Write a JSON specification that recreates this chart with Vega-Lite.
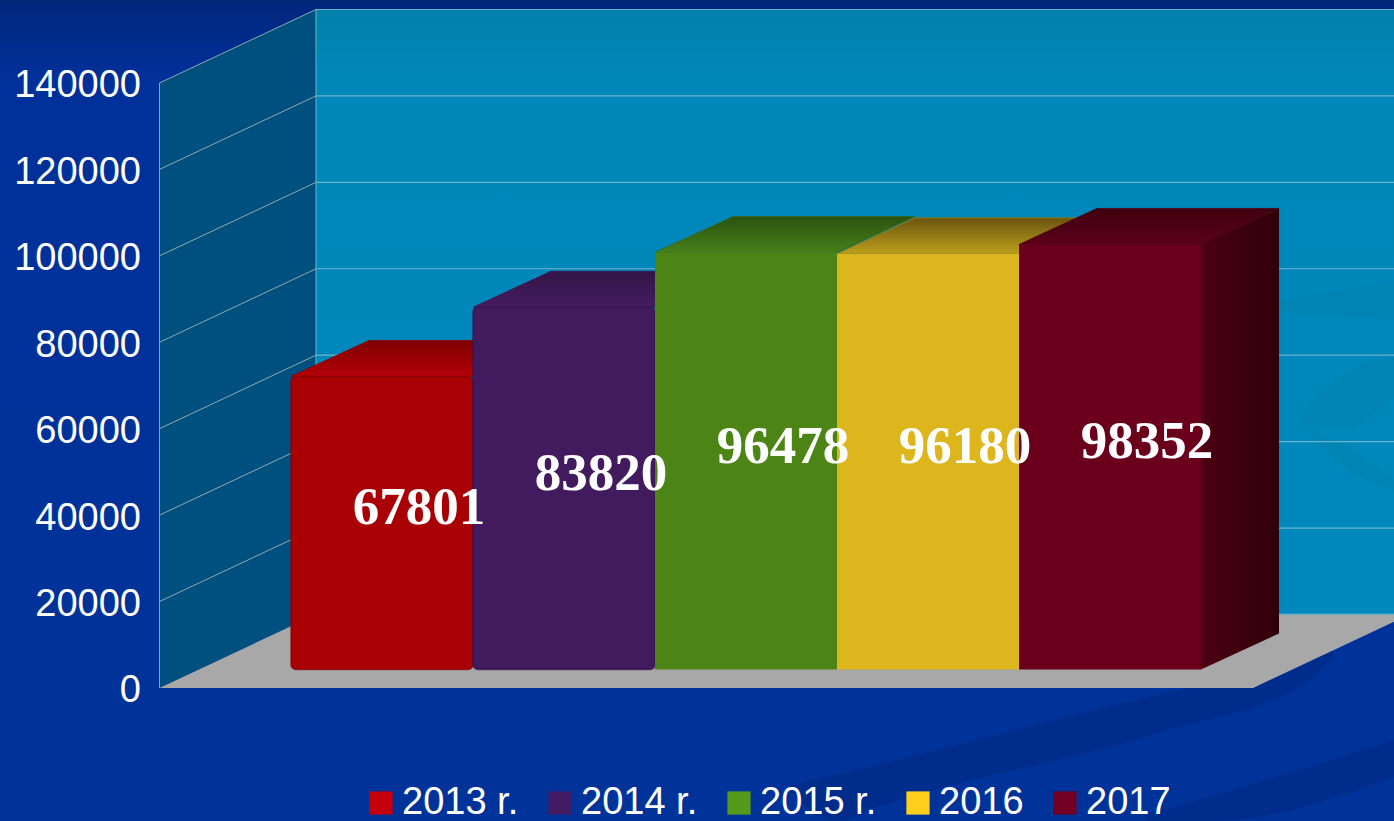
{
"$schema":"https://vega.github.io/schema/vega-lite/v6.json",
"width":1394,"height":821,"padding":0,"autosize":{"type":"none"},
"background":"#003399",
"view":{"stroke":null,"fill":{"gradient":"linear","x1":0,"y1":0,"x2":0,"y2":1,"stops":[{"offset":0,"color":"#01277c"},{"offset":0.1,"color":"#00309a"},{"offset":1,"color":"#003399"}]}},
"datasets":{
"bars":[
{"year":"2013 r.","value":67801,"order":0},
{"year":"2014 r.","value":83820,"order":1},
{"year":"2015 r.","value":96478,"order":2},
{"year":"2016","value":96180,"order":3},
{"year":"2017","value":98352,"order":4}],
"ticks":[{"tick":0},{"tick":20000},{"tick":40000},{"tick":60000},{"tick":80000},{"tick":100000},{"tick":120000},{"tick":140000}],
"floor":[{"depth":0},{"depth":1}],
"swirls":[
{"s":"a","u":2.742,"hi":-22685,"lo":-24074},{"s":"a","u":2.995,"hi":-20139,"lo":-30787},{"s":"a","u":3.22,"hi":-17824,"lo":-27546},{"s":"a","u":4.692,"hi":-2315,"lo":-11343},{"s":"a","u":4.879,"hi":-463,"lo":-9028},{"s":"a","u":5.434,"hi":5324,"lo":-2083},{"s":"a","u":5.577,"hi":6481,"lo":1157},{"s":"a","u":5.725,"hi":8796,"lo":7176},
{"s":"b","u":4.692,"hi":-29398,"lo":-30787},{"s":"b","u":5.06,"hi":-25000,"lo":-30787},{"s":"b","u":6.06,"hi":-12037,"lo":-20602}],
"wallSwirls":[
{"s":"c","u":5.555,"hi":63889,"lo":60880},{"s":"c","u":5.791,"hi":72917,"lo":60185},{"s":"c","u":6.06,"hi":76389,"lo":67824},
{"s":"d","u":5.599,"hi":59722,"lo":58333},{"s":"d","u":5.791,"hi":56250,"lo":50926},{"s":"d","u":6.06,"hi":48148,"lo":45833},
{"s":"e","u":5.434,"hi":89815,"lo":87037},{"s":"e","u":6.06,"hi":94444,"lo":85185}]
},
"data":{"name":"bars"},
"transform":[
{"calculate":"datum.order","as":"xl"},
{"calculate":"datum.order+1","as":"xr"},
{"calculate":"datum.value+4282","as":"ytop"},
{"calculate":"datum.order+0.703","as":"xlabel"},
{"calculate":"datum.value/2+7632","as":"ylabel"}
],
"resolve":{"scale":{"color":"independent","stroke":"independent"}},
"layer":[
{"mark":{"type":"rect","opacity":0},
 "encoding":{
  "x":{"datum":0,"type":"quantitative","axis":null,"scale":{"domain":[-1.5989,6.0604],"nice":false,"zero":false},"title":null},
  "y":{"field":"value","type":"quantitative","title":null,"axis":null,"scale":{"domain":[-30787,159207],"nice":false,"zero":false}},
  "y2":{"datum":0},
  "color":{"field":"year","type":"nominal","title":null,
   "scale":{"domain":["2013 r.","2014 r.","2015 r.","2016","2017"],"range":["#c4000c","#431b63","#559a1a","#ffcf1c","#720022"]},
   "legend":{"disable":false,"orient":"none","legendX":362,"legendY":784,"direction":"horizontal","columns":5,"padding":0,"symbolType":"square","symbolSize":540,"symbolStrokeWidth":0,"symbolOpacity":1,"labelFont":"Liberation Sans","labelFontSize":38,"labelColor":"#ffffff","labelOffset":2,"columnPadding":22,"labelLimit":300}}
 }},
{"data":{"name":"swirls"},"mark":{"type":"area","color":"#002d8c","interpolate":"monotone"},
 "encoding":{"x":{"field":"u","type":"quantitative","title":null,"axis":null},"y":{"field":"hi","type":"quantitative","stack":null,"title":null,"axis":null},"y2":{"field":"lo"},"detail":{"field":"s"}}},
{"mark":{"type":"rect","color":{"gradient":"linear","x1":0,"y1":0,"x2":0,"y2":1,"stops":[{"offset":0,"color":"#0081aa"},{"offset":0.12,"color":"#0087ba"},{"offset":1,"color":"#0088bc"}]}},
 "data":{"values":[{}]},
 "encoding":{"x":{"datum":0.1374,"axis":null},"x2":{"datum":6.0604},"y":{"datum":17012,"axis":null},"y2":{"datum":157012}}},
{"data":{"name":"wallSwirls"},"mark":{"type":"area","color":"#0084b4","interpolate":"monotone"},
 "encoding":{"x":{"field":"u","type":"quantitative","title":null,"axis":null},"y":{"field":"hi","type":"quantitative","stack":null,"title":null,"axis":null},"y2":{"field":"lo"},"detail":{"field":"s"}}},
{"data":{"name":"floor"},
 "transform":[{"calculate":"-0.7225+datum.depth*0.86","as":"u"},{"calculate":"datum.depth*17012","as":"lo"},{"calculate":"datum.lo+140000","as":"hi"}],
 "mark":{"type":"area","color":"#00507f"},
 "encoding":{"x":{"field":"u","type":"quantitative","title":null,"axis":null},"y":{"field":"hi","type":"quantitative","stack":null,"title":null,"axis":null},"y2":{"field":"lo"}}},
{"data":{"name":"floor"},
 "transform":[{"calculate":"datum.depth*17012","as":"v"},{"calculate":"-0.7225+datum.depth*0.86","as":"a"},{"calculate":"5.286+datum.depth*0.86","as":"b"}],
 "mark":{"type":"area","orient":"horizontal","color":"#a8a8a8","clip":true},
 "encoding":{"y":{"field":"v","type":"quantitative","title":null,"axis":null},"x":{"field":"a","type":"quantitative","stack":null,"title":null,"axis":null},"x2":{"field":"b"}}},
{"data":{"name":"ticks"},
 "transform":[{"filter":"datum.tick>0"},{"calculate":"datum.tick+17012","as":"back"}],
 "mark":{"type":"rule","color":"#8faab0","strokeWidth":1},
 "encoding":{"x":{"datum":-0.7225,"axis":null},"x2":{"datum":0.1374},"y":{"field":"tick","type":"quantitative","title":null,"axis":null},"y2":{"field":"back"}}},
{"data":{"name":"ticks"},
 "transform":[{"calculate":"datum.tick+17012","as":"back"}],
 "mark":{"type":"rule","color":"#6fb3cb","strokeWidth":1.2},
 "encoding":{"x":{"datum":0.1374,"axis":null},"x2":{"datum":6.0604},"y":{"field":"back","type":"quantitative","title":null,"axis":null}}},
{"data":{"values":[{}]},"mark":{"type":"rule","color":"#7fa6b2","strokeWidth":1},
 "encoding":{"x":{"datum":-0.7225,"axis":null},"y":{"datum":0,"axis":null},"y2":{"datum":140000}}},
{"data":{"values":[{}]},"mark":{"type":"rule","color":"#6fb3cb","strokeWidth":1},
 "encoding":{"x":{"datum":0.1374,"axis":null},"y":{"datum":17012,"axis":null},"y2":{"datum":157012}}},
{"data":{"name":"ticks"},
 "transform":[{"calculate":"datum.tick-800","as":"ty"}],
 "mark":{"type":"text","font":"Liberation Sans","fontSize":38,"color":"#ffffff","align":"right","baseline":"middle"},
 "encoding":{"x":{"datum":-0.8242,"axis":null},"y":{"field":"ty","type":"quantitative","title":null,"axis":null},"text":{"field":"tick","type":"quantitative","format":"d"}}},
{"transform":[{"filter":"datum.order==4"},{"calculate":"[0,1]","as":"depth"},{"flatten":["depth"]},{"calculate":"datum.xr+datum.depth*0.4286","as":"sx"},{"calculate":"datum.ytop+datum.depth*8333","as":"sy"},{"calculate":"4282+datum.depth*8333","as":"sb"}],
 "mark":{"type":"area","color":{"gradient":"linear","x1":0,"y1":0,"x2":1,"y2":0,"stops":[{"offset":0,"color":"#4c0013"},{"offset":1,"color":"#2e0009"}]}},
 "encoding":{"x":{"field":"sx","type":"quantitative","title":null,"axis":null},"y":{"field":"sy","type":"quantitative","stack":null,"title":null,"axis":null},"y2":{"field":"sb"}}},
{"transform":[{"filter":"datum.order==0"},{"calculate":"[0,1]","as":"depth"},{"flatten":["depth"]},{"calculate":"datum.ytop+datum.depth*8333","as":"ty"},{"calculate":"datum.xl+datum.depth*0.4286","as":"ta"},{"calculate":"datum.xr+datum.depth*0.4286","as":"tb"}],
 "mark":{"type":"area","orient":"horizontal","stroke":"#980004","strokeWidth":0.8,"color":{"gradient":"linear","x1":0,"y1":0,"x2":0,"y2":1,"stops":[{"offset":0,"color":"#7e0000"},{"offset":1,"color":"#b40008"}]}},
 "encoding":{"y":{"field":"ty","type":"quantitative","title":null,"axis":null},"x":{"field":"ta","type":"quantitative","stack":null,"title":null,"axis":null},"x2":{"field":"tb"}}},
{"transform":[{"filter":"datum.order==1"},{"calculate":"[0,1]","as":"depth"},{"flatten":["depth"]},{"calculate":"datum.ytop+datum.depth*8333","as":"ty"},{"calculate":"datum.xl+datum.depth*0.4286","as":"ta"},{"calculate":"datum.xr+datum.depth*0.4286","as":"tb"}],
 "mark":{"type":"area","orient":"horizontal","stroke":"#3c1854","strokeWidth":0.8,"color":{"gradient":"linear","x1":0,"y1":0,"x2":0,"y2":1,"stops":[{"offset":0,"color":"#331548"},{"offset":1,"color":"#451c60"}]}},
 "encoding":{"y":{"field":"ty","type":"quantitative","title":null,"axis":null},"x":{"field":"ta","type":"quantitative","stack":null,"title":null,"axis":null},"x2":{"field":"tb"}}},
{"transform":[{"filter":"datum.order==2"},{"calculate":"[0,1]","as":"depth"},{"flatten":["depth"]},{"calculate":"datum.ytop+datum.depth*8333","as":"ty"},{"calculate":"datum.xl+datum.depth*0.4286","as":"ta"},{"calculate":"datum.xr+datum.depth*0.4286","as":"tb"}],
 "mark":{"type":"area","orient":"horizontal","stroke":"#396815","strokeWidth":0.8,"color":{"gradient":"linear","x1":0,"y1":0,"x2":0,"y2":1,"stops":[{"offset":0,"color":"#2b5210"},{"offset":1,"color":"#47801a"}]}},
 "encoding":{"y":{"field":"ty","type":"quantitative","title":null,"axis":null},"x":{"field":"ta","type":"quantitative","stack":null,"title":null,"axis":null},"x2":{"field":"tb"}}},
{"transform":[{"filter":"datum.order==3"},{"calculate":"[0,1]","as":"depth"},{"flatten":["depth"]},{"calculate":"datum.ytop+datum.depth*8333","as":"ty"},{"calculate":"datum.xl+datum.depth*0.4286","as":"ta"},{"calculate":"datum.xr+datum.depth*0.4286","as":"tb"}],
 "mark":{"type":"area","orient":"horizontal","stroke":"#947c16","strokeWidth":0.8,"color":{"gradient":"linear","x1":0,"y1":0,"x2":0,"y2":1,"stops":[{"offset":0,"color":"#6a5510"},{"offset":1,"color":"#bd9f1b"}]}},
 "encoding":{"y":{"field":"ty","type":"quantitative","title":null,"axis":null},"x":{"field":"ta","type":"quantitative","stack":null,"title":null,"axis":null},"x2":{"field":"tb"}}},
{"transform":[{"filter":"datum.order==4"},{"calculate":"[0,1]","as":"depth"},{"flatten":["depth"]},{"calculate":"datum.ytop+datum.depth*8333","as":"ty"},{"calculate":"datum.xl+datum.depth*0.4286","as":"ta"},{"calculate":"datum.xr+datum.depth*0.4286","as":"tb"}],
 "mark":{"type":"area","orient":"horizontal","stroke":"#4e0014","strokeWidth":0.8,"color":{"gradient":"linear","x1":0,"y1":0,"x2":0,"y2":1,"stops":[{"offset":0,"color":"#3f000f"},{"offset":1,"color":"#5c0018"}]}},
 "encoding":{"y":{"field":"ty","type":"quantitative","title":null,"axis":null},"x":{"field":"ta","type":"quantitative","stack":null,"title":null,"axis":null},"x2":{"field":"tb"}}},
{"transform":[{"filter":"datum.order<2"}],
 "mark":{"type":"rect","cornerRadius":5,"strokeWidth":1.5,"strokeOpacity":0.7},
 "encoding":{"x":{"field":"xl","type":"quantitative","title":null,"axis":null},"x2":{"field":"xr"},"y":{"field":"ytop","type":"quantitative","title":null,"axis":null},"y2":{"datum":4282},
  "color":{"field":"year","type":"nominal","title":null,"scale":{"domain":["2013 r.","2014 r."],"range":["#a80005","#421a5e"]}},
  "stroke":{"field":"year","type":"nominal","title":null,"scale":{"domain":["2013 r.","2014 r."],"range":["#860005","#33144c"]}}}},
{"transform":[{"filter":"datum.order>=2"}],
 "mark":{"type":"rect"},
 "encoding":{"x":{"field":"xl","type":"quantitative","title":null,"axis":null},"x2":{"field":"xr"},"y":{"field":"ytop","type":"quantitative","title":null,"axis":null},"y2":{"datum":4282},
  "color":{"field":"year","type":"nominal","title":null,"scale":{"domain":["2015 r.","2016","2017"],"range":["#4c8516","#ddb61e","#6b001c"]}}}},
{"mark":{"type":"text","font":"Liberation Serif","fontWeight":"bold","fontSize":53,"color":"#ffffff","align":"center","baseline":"middle"},
 "encoding":{"x":{"field":"xlabel","type":"quantitative","title":null,"axis":null},"y":{"field":"ylabel","type":"quantitative","title":null,"axis":null},"text":{"field":"value","type":"quantitative","format":"d"}}}
],
"config":{"legend":{"disable":true},"view":{"stroke":null}}
}
